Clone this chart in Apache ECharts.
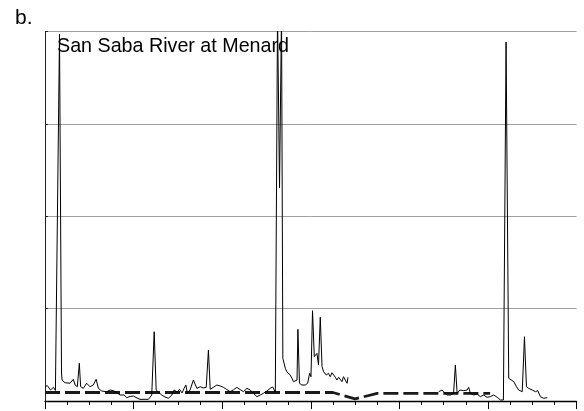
<!DOCTYPE html>
<html>
<head>
<meta charset="utf-8">
<script src="https://cdn.jsdelivr.net/npm/echarts@6/dist/echarts.min.js"></script>
<style>
  html, body { margin: 0; padding: 0; background: #fff; }
  #chart { width: 584px; height: 411px; }
</style>
</head>
<body>
<div id="chart"></div>
<script>
// Streamflow record, San Saba River at Menard.
// x: time in tick intervals (24 minor intervals, major every 4); y: discharge units.
const panelLabel = 'b.';
const stationName = 'San Saba River at Menard';

// First continuous stretch of the observed record [time, discharge]
const flowEarly = [
  [0.00, 1.48], [0.10, 1.68], [0.25, 1.19], [0.38, 1.48], [0.47, 1.14], [0.56, 1.03],
  [0.655, 39.7], [0.746, 3.03], [0.77, 2.27], [0.90, 1.98], [1.13, 1.92], [1.28, 2.35],
  [1.36, 1.73], [1.46, 1.55], [1.55, 4.08], [1.61, 1.55], [1.73, 1.37], [1.88, 1.92],
  [2.03, 1.55], [2.18, 1.73], [2.31, 2.35], [2.41, 1.37], [2.56, 1.08], [2.79, 1.01],
  [2.94, 1.19], [3.09, 1.12], [3.24, 0.90], [3.39, 0.65], [3.57, 0.65], [3.69, 0.36],
  [3.84, 0.49], [3.99, 0.54], [4.11, 0.38], [4.29, 0.18], [4.52, 0.18], [4.67, 0.18],
  [4.82, 0.65], [4.93, 7.50], [5.02, 1.19], [5.27, 0.65], [5.42, 0.43], [5.57, 0.29],
  [5.73, 0.65], [5.83, 1.19], [5.97, 0.97], [6.07, 1.27], [6.19, 0.87], [6.28, 1.37],
  [6.36, 1.73], [6.43, 0.83], [6.55, 1.19], [6.70, 2.27], [6.86, 1.37], [7.01, 1.55],
  [7.14, 1.41], [7.28, 1.48], [7.38, 5.52], [7.46, 1.27], [7.59, 1.46], [7.76, 1.73],
  [7.91, 1.62], [8.06, 1.48], [8.21, 1.24], [8.36, 1.01], [8.50, 1.19], [8.66, 1.48],
  [8.81, 1.24], [8.96, 1.01], [9.12, 1.37], [9.27, 1.19], [9.41, 0.83], [9.57, 0.47],
  [9.72, 0.65], [9.86, 0.83], [10.02, 1.08], [10.17, 1.37], [10.28, 1.52], [10.40, 0.97],
  [10.47, 0.76], [10.50, 42.0], [10.59, 23.06], [10.68, 42.0], [10.74, 4.62],
  [10.85, 3.54], [10.92, 3.17], [11.00, 3.36], [11.07, 2.81], [11.15, 2.46], [11.22, 2.09],
  [11.30, 1.92], [11.38, 2.27], [11.42, 7.76], [11.49, 1.92], [11.60, 1.73], [11.75, 1.73],
  [11.86, 1.92], [11.95, 3.00], [12.01, 2.63], [12.08, 9.78], [12.16, 4.80], [12.24, 4.62],
  [12.28, 5.16], [12.35, 3.90], [12.43, 9.06], [12.51, 3.71], [12.58, 3.17], [12.70, 2.81],
  [12.80, 3.00], [12.88, 2.63], [12.96, 3.06], [13.03, 3.00], [13.11, 2.57], [13.18, 2.27],
  [13.26, 2.57], [13.33, 2.46], [13.41, 2.09], [13.48, 2.63], [13.56, 2.27], [13.64, 1.92],
  [13.68, 2.57]
];

// Second continuous stretch of the observed record
const flowLate = [
  [17.78, 1.01], [17.93, 1.19], [18.03, 0.90], [18.16, 0.65], [18.31, 0.65], [18.45, 0.83],
  [18.53, 3.90], [18.61, 0.83], [18.73, 1.19], [18.91, 1.12], [19.06, 1.19], [19.13, 1.48],
  [19.21, 0.83], [19.36, 0.65], [19.51, 0.76], [19.66, 0.47], [19.81, 0.65], [19.96, 0.40],
  [20.11, 0.47], [20.26, 0.65], [20.42, 0.40], [20.56, 0.11], [20.70, 0.11], [20.82, 38.86],
  [20.94, 2.46], [21.02, 2.27], [21.17, 2.09], [21.29, 1.55], [21.39, 1.19], [21.55, 1.01],
  [21.65, 6.96], [21.74, 1.55], [21.84, 1.37], [22.00, 1.19], [22.15, 1.01], [22.25, 1.12],
  [22.37, 0.47], [22.52, 0.29], [22.68, 0.36]
];

// Reference (base) flow level
const baseFlow = [
  [0, 0.92], [13, 0.92], [14, 0.22], [15, 0.83], [20.1, 0.83]
];

// Axis extents
const xMin = 0, xMax = 24, xMajor = 4;
const yMin = 0, yMax = 40, yStep = 10;

const chart = echarts.init(document.getElementById('chart'), null, { renderer: 'canvas' });

chart.setOption({
  animation: false,
  backgroundColor: '#ffffff',
  title: [
    {
      text: panelLabel,
      left: 15, top: 8, padding: 0,
      textStyle: { fontFamily: 'Liberation Sans, Arial, sans-serif', fontSize: 21, fontWeight: 'normal', color: '#000' }
    },
    {
      text: stationName,
      left: 57, top: 37, padding: 0,
      textStyle: { fontFamily: 'Liberation Sans, Arial, sans-serif', fontSize: 19.7, fontWeight: 'normal', color: '#000' }
    }
  ],
  grid: { left: 45, right: 7.5, top: 31.5, bottom: 10 },
  xAxis: {
    type: 'value',
    min: xMin, max: xMax, interval: xMajor,
    axisLine: { show: true, onZero: false, lineStyle: { color: '#000', width: 1.3 } },
    axisTick: { show: true, inside: false, length: 8, lineStyle: { color: '#000', width: 1 } },
    minorTick: { show: true, splitNumber: 4, length: 4, lineStyle: { color: '#000', width: 1 } },
    axisLabel: { show: false },
    splitLine: { show: false }
  },
  yAxis: {
    type: 'value',
    min: yMin, max: yMax, interval: yStep,
    axisLine: { show: true, onZero: false, lineStyle: { color: '#222', width: 1 } },
    axisTick: { show: true, inside: true, length: 3, lineStyle: { color: '#222' } },
    axisLabel: { show: false },
    splitLine: { show: true, lineStyle: { color: '#a0a0a0', width: 1 } }
  },
  series: [
    {
      name: 'base',
      type: 'line',
      data: baseFlow,
      showSymbol: false,
      z: 2,
      lineStyle: { color: '#1a1a1a', width: 2.8, type: [15, 5] }
    },
    {
      name: 'flow-early',
      type: 'line',
      data: flowEarly,
      showSymbol: false,
      clip: true,
      z: 3,
      lineStyle: { color: '#000', width: 1 }
    },
    {
      name: 'flow-late',
      type: 'line',
      data: flowLate,
      showSymbol: false,
      clip: true,
      z: 3,
      lineStyle: { color: '#000', width: 1 }
    }
  ]
});
</script>
</body>
</html>
